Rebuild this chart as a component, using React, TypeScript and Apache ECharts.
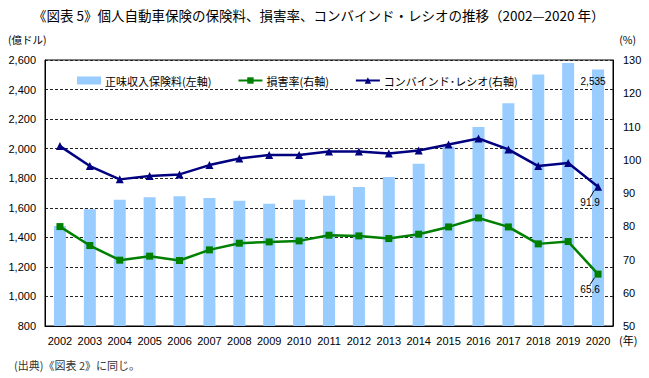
import React, { useEffect, useRef } from "react";
import * as echarts from "echarts";

const years = ["2002","2003","2004","2005","2006","2007","2008","2009","2010","2011","2012","2013","2014","2015","2016","2017","2018","2019","2020"];
const premiums = [1477, 1590, 1655, 1672, 1678, 1666, 1648, 1628, 1655, 1682, 1740, 1808, 1898, 2015, 2147, 2308, 2502, 2580, 2535];
const lossRatio = [79.9, 74.2, 69.8, 71.0, 69.7, 72.9, 74.9, 75.3, 75.6, 77.3, 77.1, 76.3, 77.6, 79.8, 82.5, 79.8, 74.7, 75.4, 65.6];
const combinedRatio = [104.1, 98.1, 94.1, 95.1, 95.6, 98.4, 100.4, 101.4, 101.4, 102.5, 102.5, 101.9, 102.8, 104.6, 106.4, 103.1, 98.1, 99.0, 91.9];
const leftTicks = { min: 800, max: 2600, interval: 200 };
const rightTicks = { min: 50, max: 130, interval: 10 };

const NUM_FONT = "'Liberation Sans', Arial, sans-serif";
const JP_FONT = "'Noto Sans CJK JP', sans-serif";

export default function App() {
  const ref = useRef<HTMLDivElement>(null);
  useEffect(() => {
    if (!ref.current) return;
    const chart = echarts.init(ref.current, null, { renderer: "svg" });
    const last = years.length - 1;
    const lineLabel = {
      show: true,
      position: "bottom" as const,
      distance: 5,
      fontSize: 10,
      color: "#000",
      fontFamily: NUM_FONT,
    };
    chart.setOption({
      animation: false,
      backgroundColor: "#fff",
      title: {
        text: "《図表 5》個人自動車保険の保険料、損害率、コンバインド・レシオの推移（2002—2020 年）",
        left: 28,
        top: 3,
        textStyle: { fontSize: 13.5, fontWeight: "normal", color: "#000", fontFamily: JP_FONT },
      },
      legend: {
        left: 72,
        top: 70,
        itemGap: 26,
        itemWidth: 24,
        itemHeight: 8,
        textStyle: { fontSize: 11, color: "#000", fontFamily: JP_FONT, padding: [0, 0, 0, -1] },
        data: [
          { name: "正味収入保険料(左軸)", icon: "rect", itemStyle: { color: "#99CCFF" } },
          { name: "損害率(右軸)" },
          { name: "コンバインド･レシオ(右軸)" },
        ],
      },
      grid: {
        left: 45,
        right: 36,
        top: 60,
        bottom: 52,
        show: true,
        borderColor: "#000",
        borderWidth: 1,
        backgroundColor: "transparent",
      },
      xAxis: {
        type: "category",
        data: years,
        name: "(年)",
        nameLocation: "end",
        nameGap: 6,
        nameTextStyle: { fontSize: 11, color: "#000", fontFamily: JP_FONT, verticalAlign: "top", padding: [9, 0, 0, 0] },
        axisLine: { show: true, lineStyle: { color: "#000", width: 1 } },
        axisTick: { show: false },
        axisLabel: { fontSize: 11, color: "#000", fontFamily: NUM_FONT, margin: 9, interval: 0 },
      },
      yAxis: [
        {
          type: "value",
          min: leftTicks.min,
          max: leftTicks.max,
          interval: leftTicks.interval,
          axisLine: { show: true, lineStyle: { color: "#000" } },
          axisTick: { show: false },
          axisLabel: {
            fontSize: 11,
            color: "#000",
            fontFamily: NUM_FONT,
            margin: 9,
            formatter: (v: number) => v.toLocaleString("en-US"),
          },
          splitLine: { show: true, lineStyle: { color: "#222", type: [3, 2], width: 1 } },
        },
        {
          type: "value",
          min: rightTicks.min,
          max: rightTicks.max,
          interval: rightTicks.interval,
          position: "right",
          axisLine: { show: true, lineStyle: { color: "#000" } },
          axisTick: { show: false },
          axisLabel: { fontSize: 11, color: "#000", fontFamily: NUM_FONT, margin: 10 },
          splitLine: { show: false },
        },
      ],
      graphic: [
        { type: "text", left: 8, top: 34, style: { text: "(億ドル)", fontSize: 10.5, fill: "#000", fontFamily: JP_FONT } },
        { type: "text", right: 13, top: 34, style: { text: "(%)", fontSize: 10.5, fill: "#000", fontFamily: JP_FONT } },
        { type: "text", left: 14, top: 359, style: { text: "(出典)《図表 2》に同じ。", fontSize: 11, fill: "#333", fontFamily: JP_FONT } },
      ],
      series: [
        {
          name: "正味収入保険料(左軸)",
          type: "bar",
          yAxisIndex: 0,
          barWidth: 12,
          itemStyle: { color: "#99CCFF" },
          data: premiums.map((v, i) =>
            i === last
              ? {
                  value: v,
                  label: {
                    show: true,
                    position: "insideTop",
                    distance: 7,
                    offset: [-5, 0],
                    fontSize: 10,
                    color: "#000",
                    fontFamily: NUM_FONT,
                    formatter: (p: any) => Number(p.value).toLocaleString("en-US"),
                  },
                }
              : v
          ),
        },
        {
          name: "損害率(右軸)",
          type: "line",
          yAxisIndex: 1,
          symbol: "rect",
          symbolSize: 7,
          lineStyle: { color: "#008000", width: 2.5 },
          itemStyle: { color: "#008000" },
          labelLayout: { dx: -8, dy: 2 },
          labelLine: { show: true, length2: 0, lineStyle: { color: "#000", width: 1 } },
          data: lossRatio.map((v, i) => (i === last ? { value: v, label: lineLabel } : v)),
        },
        {
          name: "コンバインド･レシオ(右軸)",
          type: "line",
          yAxisIndex: 1,
          symbol: "triangle",
          symbolSize: 8,
          lineStyle: { color: "#000080", width: 2.5 },
          itemStyle: { color: "#000080" },
          labelLayout: { dx: -8, dy: 2 },
          labelLine: { show: true, length2: 0, lineStyle: { color: "#000", width: 1 } },
          data: combinedRatio.map((v, i) => (i === last ? { value: v, label: lineLabel } : v)),
        },
      ],
    });
    return () => chart.dispose();
  }, []);
  return <div ref={ref} style={{ position: "fixed", left: 0, top: 0, width: 649, height: 378 }} />;
}
